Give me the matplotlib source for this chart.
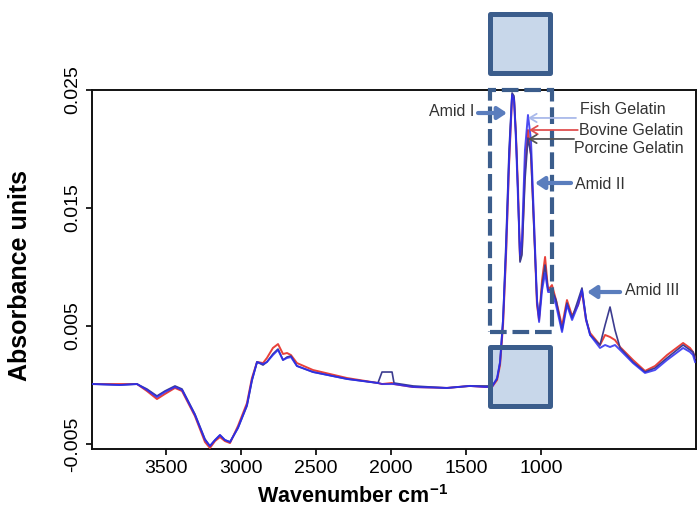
import matplotlib
matplotlib.use("Agg")
import matplotlib.pyplot as plt
from matplotlib.patches import Rectangle
import numpy as np

plt.rcParams['font.family'] = ['Liberation Sans', 'DejaVu Sans']
plt.rcParams['mathtext.fontset'] = 'custom'
plt.rcParams['mathtext.rm'] = 'Liberation Sans'
plt.rcParams['mathtext.bf'] = 'Liberation Sans:bold'

wavenumber = [3987, 3807, 3693, 3627, 3560, 3507, 3440, 3393, 3307, 3240,
              3207, 3173, 3140, 3107, 3073, 3020, 2960, 2927, 2893, 2853,
              2827, 2787, 2753, 2720, 2693, 2667, 2627, 2520, 2293, 2087,
              2060, 1993, 1980, 1853, 1627, 1473, 1373, 1327, 1293, 1273,
              1253, 1233, 1213, 1193, 1180, 1167, 1153, 1140, 1127, 1107,
              1087, 1067, 1047, 1027, 1013, 993, 973, 953, 927, 900,
              860, 827, 793, 753, 727, 700, 673, 607, 573, 540,
              507, 473, 387, 307, 240, 160, 53, 7, -13, -27]

# absorbance in units of 1e-4
fish_e4 = [0.8, 0, 0.8, -4.2, -10.2, -5.9, -1.7, -4.2, -25.4, -46.6,
           -51.7, -46.6, -42.4, -46.6, -48.3, -36.4, -16.9, 4.2, 19.5, 17.8,
           19.5, 25.4, 29.7, 21.2, 22.9, 23.7, 16.1, 11.0, 5.1, 1.7,
           0.8, 0.8, 0.8, -1.7, -2.5, -0.8, -1.7, -1.7, 5.9, 19.5,
           55.1, 114.4, 190.7, 245.8, 241.5, 207.6, 156.8, 110.2, 122.9, 199.2,
           228.8, 207.6, 139.8, 72.0, 53.4, 80.5, 94.9, 78.8, 78.8, 67.8,
           44.9, 67.8, 55.1, 67.8, 80.5, 55.1, 42.4, 31.4, 33.9, 32.2,
           33.9, 29.7, 18.6, 10.2, 12.7, 21.2, 31.4, 28.0, 25.4, 19.5]

bovine_e4 = [0.8, 0.8, 0.8, -5.1, -11.9, -7.6, -2.5, -5.1, -26.3, -48.3,
             -53.4, -47.5, -44.1, -47.5, -49.2, -34.7, -15.3, 5.9, 19.5, 18.6,
             22.9, 31.4, 34.7, 26.3, 27.1, 25.4, 18.6, 12.7, 5.9, 1.7,
             0.8, 1.7, 0.8, -1.7, -2.5, -0.8, -1.7, -1.7, 4.2, 16.9,
             50.8, 110.2, 186.4, 244.1, 243.2, 211.9, 165.3, 105.9, 114.4, 182.2,
             216.1, 194.9, 135.6, 67.8, 55.1, 89.0, 108.5, 80.5, 84.7, 72.0,
             50.0, 72.0, 58.5, 67.8, 78.8, 55.1, 44.1, 33.9, 42.4, 40.7,
             38.1, 32.2, 21.2, 11.9, 16.1, 25.4, 35.6, 31.4, 28.0, 22.9]

porcine_e4 = [0.8, 0, 0.8, -3.4, -9.3, -5.1, -0.8, -3.4, -24.6, -45.8,
              -51.7, -46.6, -42.4, -46.6, -48.3, -36.4, -17.8, 3.4, 19.5, 16.9,
              19.5, 26.3, 30.5, 21.2, 23.7, 24.6, 16.1, 11.0, 5.1, 1.7,
              11.0, 11.0, 1.7, -0.8, -2.5, -0.8, -0.8, -0.8, 5.1, 19.5,
              56.8, 122.9, 199.2, 247.5, 244.9, 211.9, 161.0, 104.2, 110.2, 173.7,
              209.3, 194.9, 131.4, 72.0, 56.8, 84.7, 101.7, 80.5, 80.5, 72.0,
              46.6, 69.5, 56.8, 72.0, 82.2, 56.8, 42.4, 33.9, 50.8, 66.1,
              46.6, 31.4, 19.5, 11.0, 14.4, 22.9, 33.9, 29.7, 28.0, 22.9]

series_names = ["Fish Gelatin", "Bovine Gelatin", "Porcine Gelatin"]
yticks = [-0.005, 0.005, 0.015, 0.025]
ytick_labels = ["-0.005", "0.005", "0.015", "0.025"]
xticks = [3500, 3000, 2500, 2000, 1500, 1000]

w = np.array(wavenumber)
fish = np.array(fish_e4) * 1e-4
bovine = np.array(bovine_e4) * 1e-4
porcine = np.array(porcine_e4) * 1e-4

# ---------------- figure ----------------
fig = plt.figure(figsize=(6.98, 5.11), dpi=100)
ax = fig.add_axes([92/698, 62/511, 604/698, 359/511])

c_fish = '#2c2cf0'
c_bov = '#e8413a'
c_porc = '#3c3c90'

ax.plot(w, bovine, color=c_bov, lw=1.4, zorder=3)
ax.plot(w, porcine, color=c_porc, lw=1.2, zorder=3.1)
ax.plot(w, fish, color=c_fish, lw=1.4, alpha=0.85, zorder=3.2)

ax.set_xlim(3993, -33)
ax.set_ylim(-0.005424, 0.025)

ax.set_xticks(xticks)
ax.set_xticklabels([str(t) for t in xticks])
ax.set_yticks(yticks)
ax.set_yticklabels(ytick_labels)
ax.tick_params(axis='x', direction='out', length=4, width=1.2, labelsize=14, pad=4)
ax.tick_params(axis='y', direction='out', length=4.5, width=1.2, labelsize=14, pad=3,
               labelrotation=90)
for lab in ax.get_yticklabels():
    lab.set_va('center')
for s in ax.spines.values():
    s.set_linewidth(1.4)
    s.set_color('#111111')

fig.text(20/698, 1 - 275/511, 'Absorbance units', rotation=90, ha='center', va='center',
         fontsize=18, fontweight='bold')
fig.text(353/698, 1 - 497/511, r'Wavenumber cm$^{\mathbf{-1}}$', ha='center', va='center',
         fontsize=15.5, fontweight='bold')

# ---------------- highlight boxes ----------------
box_edge = '#3b5d8c'
box_fill = '#c8d7ea'
x0, x1 = 1337, 937
for (ylo, yhi) in [(0.02648, 0.0314), (-0.00174, 0.00318)]:
    ax.add_patch(Rectangle((x0, ylo), x1 - x0, yhi - ylo, facecolor=box_fill,
                           edgecolor='none', zorder=1, clip_on=False))
    ax.add_patch(Rectangle((x0, ylo), x1 - x0, yhi - ylo, facecolor='none',
                           edgecolor=box_edge, lw=3.6, joinstyle='round', zorder=4,
                           clip_on=False))
# dashed region
ax.add_patch(Rectangle((1340, 0.00449), 927 - 1340, 0.025 - 0.00449, facecolor='none',
                       edgecolor=box_edge, lw=3.0, linestyle=(0, (4.0, 1.4)), zorder=4,
                       clip_on=False))

# ---------------- annotations ----------------
arrow_blue = '#5a7dbd'
txt_col = '#333333'
thick = dict(arrowstyle='-|>,head_length=0.45,head_width=0.3', color=arrow_blue,
             lw=3.0, mutation_scale=12, shrinkA=0, shrinkB=0)

ax.annotate('', xy=(1227, 0.02305), xytext=(1420, 0.02305), arrowprops=thick, zorder=5)
ax.text(1447, 0.02314, 'Amid I', ha='right', va='center', fontsize=11.5, color=txt_col)

ax.annotate('', xy=(1040, 0.01712), xytext=(800, 0.01712), arrowprops=thick, zorder=5)
ax.text(773, 0.01703, 'Amid II', ha='left', va='center', fontsize=11.5, color=txt_col)

ax.annotate('', xy=(693, 0.00788), xytext=(473, 0.00788), arrowprops=thick, zorder=5)
ax.text(440, 0.00805, 'Amid III', ha='left', va='center', fontsize=11.5, color=txt_col)

thin = dict(arrowstyle='->,head_length=0.5,head_width=0.3', lw=1.3,
            mutation_scale=10, shrinkA=0, shrinkB=0)
ax.annotate('', xy=(1087, 0.02263), xytext=(767, 0.02263),
            arrowprops=dict(thin, color='#a9b9ea'), zorder=5)
ax.text(740, 0.02331, series_names[0], ha='left', va='center', fontsize=11.5, color=txt_col)

ax.annotate('', xy=(1080, 0.02161), xytext=(755, 0.02161),
            arrowprops=dict(thin, color='#e05050'), zorder=5)
ax.text(747, 0.02161, series_names[1], ha='left', va='center', fontsize=11.5, color=txt_col)

ax.annotate('', xy=(1087, 0.02085), xytext=(780, 0.02085),
            arrowprops=dict(thin, color='#555555'), zorder=5)
ax.text(780, 0.0200, series_names[2], ha='left', va='center', fontsize=11.5, color=txt_col)

fig.savefig('out.png', dpi=100)
